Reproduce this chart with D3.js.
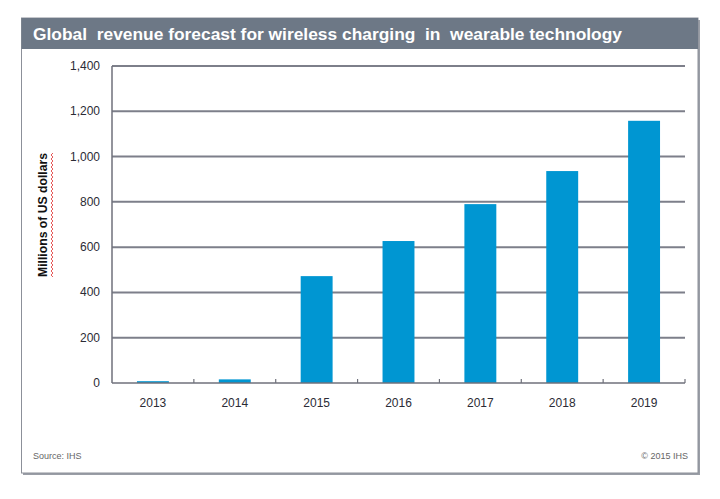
<!DOCTYPE html>
<html><head><meta charset="utf-8">
<script src="https://cdn.jsdelivr.net/npm/d3@7/dist/d3.min.js"></script>
<style>body{margin:0;background:#fff}svg{display:block}</style>
</head><body>
<svg id="c" width="720" height="499"></svg>
<script>
const years = ["2013","2014","2015","2016","2017","2018","2019"];
const revenue = [8, 16, 472, 627, 790, 936, 1158];
const yTicks = [0,200,400,600,800,1000,1200,1400];
const titleText = "Global  revenue forecast for wireless charging  in  wearable technology";
const yTitle = "Millions of US dollars";

const svg = d3.select("#c");
// frame with shadow
svg.append("rect").attr("x",23).attr("y",20).attr("width",677).attr("height",455).attr("fill","#9a9ea6");
svg.append("rect").attr("x",21.5).attr("y",18).attr("width",676.5).attr("height",455).attr("fill","#fff").attr("stroke","#8c9099").attr("stroke-width",1);
svg.append("rect").attr("x",21.5).attr("y",18).attr("width",676.5).attr("height",31).attr("fill","#6d7886");
svg.append("text").attr("x",33).attr("y",39.5).attr("fill","#fff")
  .attr("font-family","Liberation Sans, Arial, sans-serif").attr("font-weight","bold").attr("font-size",16.5)
  .attr("textLength",589).attr("lengthAdjust","spacingAndGlyphs").style("white-space","pre").text(titleText);

const x = d3.scaleBand().domain(years).range([112,685]).paddingInner(0.61).paddingOuter(0.305);
const y = d3.scaleLinear().domain([0,1400]).range([383,66]);

const g = svg.append("g");
// gridlines
g.selectAll("line.grid").data(yTicks.filter(d=>d>0)).join("line")
  .attr("x1",112).attr("x2",685).attr("y1",d=>y(d)).attr("y2",d=>y(d))
  .attr("stroke","#7d7f8a").attr("stroke-width",2);
// bars
g.selectAll("rect.bar").data(years).join("rect")
  .attr("x",d=>x(d)).attr("width",x.bandwidth())
  .attr("y",(d,i)=>y(revenue[i])).attr("height",(d,i)=>y(0)-y(revenue[i]))
  .attr("fill","#0096d2");
// y axis line
g.append("line").attr("x1",112).attr("x2",112).attr("y1",y(1400)).attr("y2",y(0)).attr("stroke","#6f717b").attr("stroke-width",1.5);
// x axis
g.append("line").attr("x1",112).attr("x2",685).attr("y1",y(0)).attr("y2",y(0)).attr("stroke","#6f717b").attr("stroke-width",1.5);
const step = x.step();
g.selectAll("line.xt").data(d3.range(1, years.length+1)).join("line")
  .attr("x1",d=>112+d*step).attr("x2",d=>112+d*step).attr("y1",y(0)).attr("y2",y(0)-4)
  .attr("stroke","#6f717b").attr("stroke-width",1.2);
// y labels
g.selectAll("text.yl").data(yTicks).join("text")
  .attr("x",100).attr("y",d=>y(d)+4).attr("text-anchor","end")
  .attr("font-family","Liberation Sans, Arial, sans-serif").attr("font-size",12).attr("fill","#2b2b35")
  .text(d=>d3.format(",")(d));
// x labels
g.selectAll("text.xl").data(years).join("text")
  .attr("x",d=>x(d)+x.bandwidth()/2).attr("y",407).attr("text-anchor","middle")
  .attr("font-family","Liberation Sans, Arial, sans-serif").attr("font-size",12).attr("fill","#2b2b35")
  .text(d=>d);
// y title
svg.append("text").attr("transform","translate(47,215) rotate(-90)").attr("text-anchor","middle")
  .attr("font-family","Liberation Sans, Arial, sans-serif").attr("font-weight","bold").attr("font-size",12).attr("fill","#111")
  .attr("textLength",124).attr("lengthAdjust","spacingAndGlyphs").text(yTitle);
// red wavy spell-check line
let pts = [];
for (let yy=153, k=0; yy<=277; yy+=2, k++) pts.push([k%2?51:53, yy]);
svg.append("path").attr("d", d3.line()(pts)).attr("fill","none").attr("stroke","#e03030").attr("stroke-width",0.8);
// footer
svg.append("text").attr("x",33).attr("y",459).attr("font-family","Liberation Sans, Arial, sans-serif").attr("font-size",9).attr("fill","#666").text("Source: IHS");
svg.append("text").attr("x",688).attr("y",459).attr("text-anchor","end").attr("font-family","Liberation Sans, Arial, sans-serif").attr("font-size",9).attr("fill","#666").text("© 2015 IHS");
</script>
</body></html>
